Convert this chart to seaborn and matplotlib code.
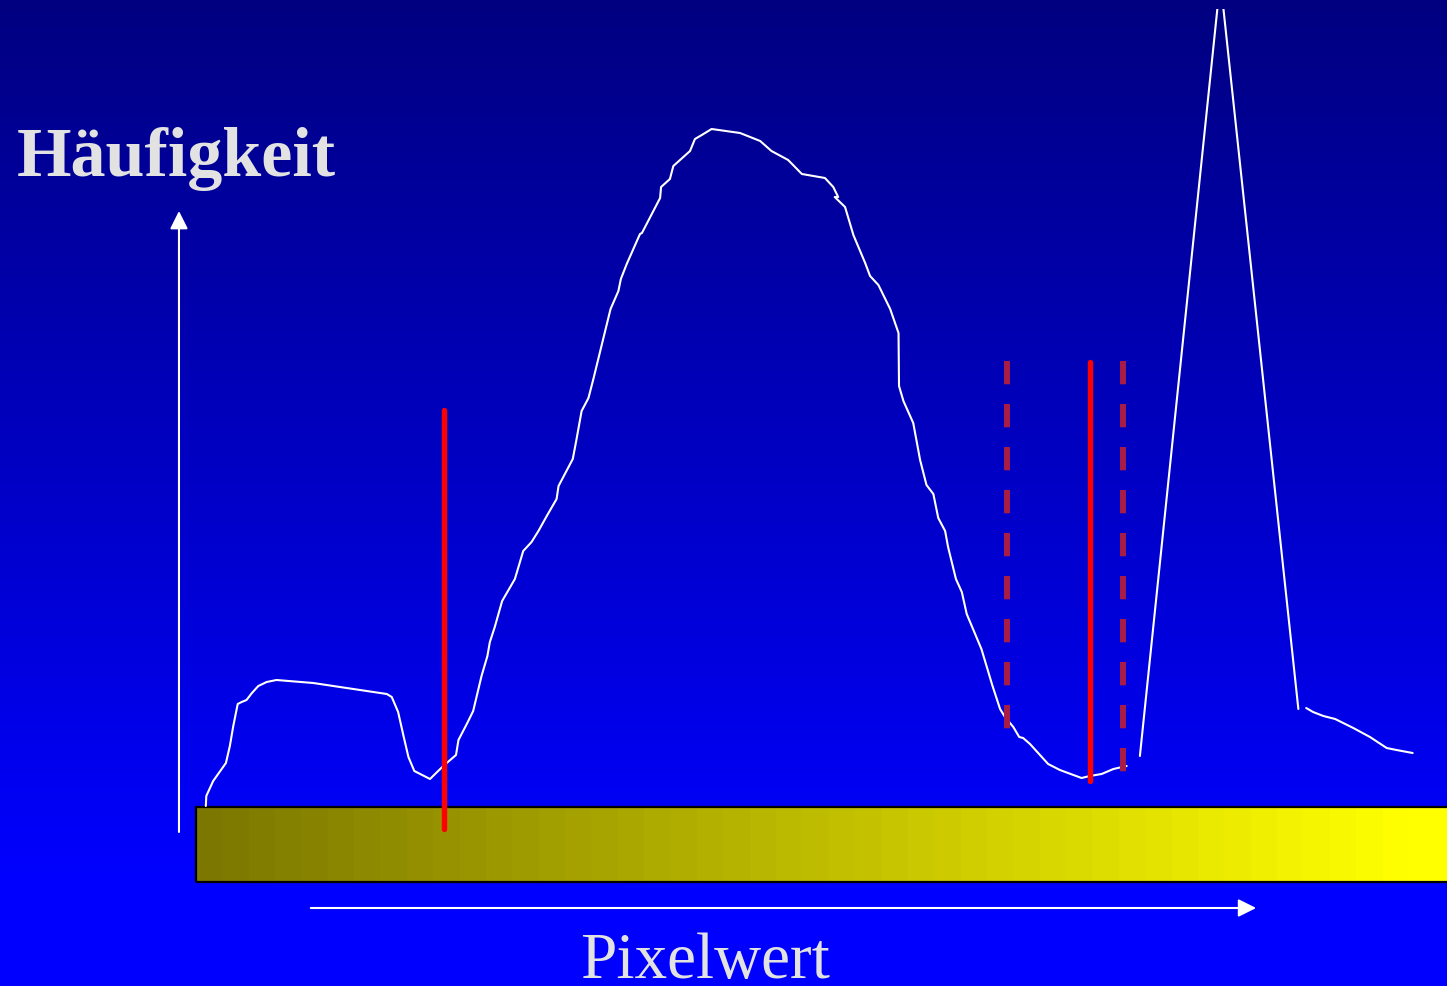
import numpy as np
import matplotlib
matplotlib.use("Agg")
import matplotlib.pyplot as plt
from matplotlib.patches import Rectangle
import seaborn as sns

# Histogram of grey values (x: Pixelwert 0..255, y: Häufigkeit)
gray_main = [2.0, 2.1, 3.5, 6.1, 6.9, 7.6, 8.5, 9.3, 10.3, 11.4,
             12.7, 14.4, 16.4, 23.9, 30.7, 38.9, 39.9, 41.2, 42.3, 43.3,
             44.5, 47.7, 50.4, 53.0, 53.5, 55.3, 56.5, 58.2, 59.4, 59.9,
             60.9, 62.4, 65.0, 66.7, 68.4, 69.8, 71.5, 73.5, 73.9, 76.8,
             77.5, 78.6, 80.0, 81.0, 84.5, 86.1, 86.6, 87.8, 90.5, 90.9,
             94.6, 94.8, 96.6, 97.3, 100.7, 101.7, 103.1, 105.1, 110.9, 115.0,
             117.3, 120.7, 123.5, 128.2, 129.9, 130.9, 130.2, 132.3, 134.0, 136.4,
             137.4, 139.1, 141.5, 143.2, 143.3, 144.2, 146.2, 147.6, 148.9, 150.3,
             151.3, 152.7, 153.3, 154.9, 156.1, 157.1, 160.1, 162.3, 163.9, 164.9,
             166.6, 167.8, 168.6, 170.0, 173.7, 176.1, 180.5, 182.2, 184.6, 187.0,
             189.7]
freq_main = [1, 11, 26, 44, 61, 81, 103, 105, 107, 114,
             121, 125, 127, 124, 119, 113, 110, 95, 71, 50,
             36, 28, 41, 52, 67, 84, 96, 131, 151, 165,
             180, 206, 228, 256, 265, 276, 291, 308, 321, 348,
             366, 396, 409, 428, 498, 516, 528, 543, 573, 574,
             609, 620, 628, 641, 656, 668, 672, 678, 674, 666,
             656, 647, 633, 629, 620, 610, 610, 600, 572, 544,
             531, 522, 498, 474, 421, 406, 384, 347, 322, 313,
             289, 276, 260, 228, 215, 193, 158, 122, 98, 90,
             80, 70, 69, 63, 43, 37, 29, 31, 33, 38,
             41]

# narrow bright peak (clipped at the top of the plot)
gray_spike = [192.4, 208.8, 224.7]
freq_spike = [51, 827, 98]

# bright tail
gray_tail = [226.3, 227.7, 229.8, 232.2, 235.9, 239.3, 242.7, 244.7, 248.0]
freq_tail = [99, 95, 91, 88, 79, 70, 59, 57, 54]

# thresholds (solid) and tolerance band (dashed)
thresholds = [50.5, 182.2]
threshold_tops = [397, 445]
threshold_bottoms = [-22, 26]
band_limits = [165.3, 189.0]
band_bottoms = [75, 33]
band_top = 446

y_label = "Häufigkeit"
x_label = "Pixelwert"

# ---------------------------------------------------------------------------
W, H, DPI = 1447, 987, 100
px_per_gray = 1251 / 255.0
x0_px, base_px = 196, 808
x_min = -x0_px / px_per_gray
x_max = (W - x0_px) / px_per_gray
y_min = base_px - H
y_max = base_px
y_clip = 798

sns.set_style("white")
fig = plt.figure(figsize=(W / DPI, H / DPI), dpi=DPI)
ax = fig.add_axes([0, 0, 1, 1])

# background: navy at the top fading to pure blue
t = np.clip(np.linspace(0, 1, H) / 0.89, 0, 1)
bg = np.zeros((H, 1, 3))
bg[:, 0, 2] = (128 + 127 * t) / 255.0
ax.imshow(bg, extent=[x_min, x_max, y_min, y_max], aspect="auto",
          origin="upper", zorder=0, interpolation="bilinear")

# grey-value bar (olive -> yellow)
n_steps = 48
s = np.clip(np.linspace(0, 1, n_steps) / 0.96, 0, 1)
bar = np.zeros((1, n_steps, 3))
bar[0, :, 0] = (124 + 131 * s) / 255.0
bar[0, :, 1] = (119 + 136 * s) / 255.0
bar_bottom = -75.3
ax.imshow(bar, extent=[0, 258, bar_bottom, 0], aspect="auto",
          zorder=1, interpolation="nearest")
ax.add_patch(Rectangle((0, bar_bottom), 258, -bar_bottom, fill=False,
                       edgecolor="black", lw=1.6, zorder=2))

# histogram curve
clip_rect = Rectangle((x_min, y_min), x_max - x_min, y_clip - y_min,
                      transform=ax.transData, visible=False)
ax.add_patch(clip_rect)
for gx, fy in [(gray_main, freq_main), (gray_spike, freq_spike),
               (gray_tail, freq_tail)]:
    sns.lineplot(x=gx, y=fy, sort=False, estimator=None, color="white",
                 lw=1.5, ax=ax, zorder=4)
    ax.lines[-1].set_clip_path(clip_rect)

# solid thresholds
for g, top, bot in zip(thresholds, threshold_tops, threshold_bottoms):
    ax.plot([g, g], [top, bot], color="#FF0000", lw=3.9,
            solid_capstyle="round", zorder=5)

# dashed tolerance band
for g, bot in zip(band_limits, band_bottoms):
    ax.plot([g, g], [band_top, bot], color="#A81C46", lw=4.3,
            dashes=(3.9, 3.3), dash_capstyle="butt", zorder=5)

# axis arrows
arrow = dict(arrowstyle="-|>", mutation_scale=27, lw=1.5, color="white",
             shrinkA=0, shrinkB=0)
ax.annotate("", xy=(-3.47, 596), xytext=(-3.47, -25), arrowprops=arrow,
            zorder=3)
ax.annotate("", xy=(216.1, -101), xytext=(23.4, -101), arrowprops=arrow,
            zorder=3)

# labels
ax.text(-36.5, 632, y_label, family=["Liberation Serif", "DejaVu Serif"],
        fontweight="bold", fontsize=50.5, color="#E2E2E2",
        ha="left", va="baseline", zorder=6)
ax.text(78.3, -170, x_label, family=["Liberation Serif", "DejaVu Serif"],
        fontsize=47, color="#E2E2E2", ha="left", va="baseline", zorder=6)

ax.set_xlim(x_min, x_max)
ax.set_ylim(y_min, y_max)
ax.axis("off")

fig.savefig("out.png", dpi=DPI)
